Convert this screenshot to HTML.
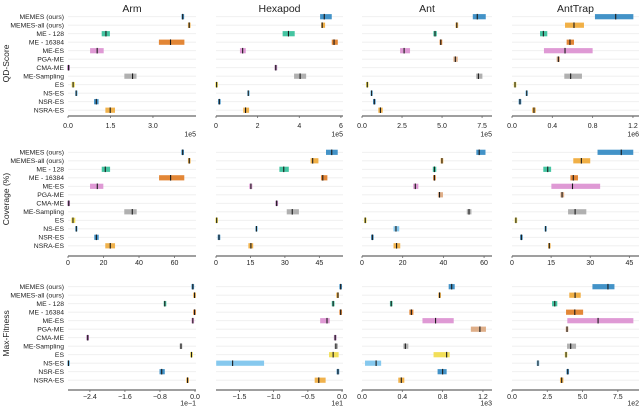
<!DOCTYPE html>
<html><head><meta charset="utf-8"><style>
body{margin:0;background:#fff;width:640px;height:407px;overflow:hidden}
svg text{font-family:"Liberation Sans","DejaVu Sans",sans-serif;fill:#222}
</style></head><body>
<svg id="chart" width="640" height="407" viewBox="0 0 640 407" xmlns="http://www.w3.org/2000/svg"></svg>
<script>
const categories=["MEMES (ours)","MEMES-all (ours)","ME - 128","ME - 16384","ME-ES","PGA-ME","CMA-ME","ME-Sampling","ES","NS-ES","NSR-ES","NSRA-ES"];
const colors=["#2f87c2","#efa733","#31bf98","#e07a20","#db8fd0","#dca67c","#b06eb2","#a9a9a9","#f1dc48","#79c3ec","#2f87c2","#eeaa3a"];
const envs=["Arm","Hexapod","Ant","AntTrap"];
const metrics=["QD-Score","Coverage (%)","Max-Fitness"];
// [low, median, high] per category
const qdArm=[[4.02,4.05,4.09],[4.26,4.28,4.30],[1.19,1.34,1.48],[3.21,3.62,4.11],[0.78,1.03,1.26],null,[0.01,0.02,0.03],[1.99,2.28,2.42],[0.13,0.18,0.24],[0.28,0.29,0.31],[0.92,1.0,1.08],[1.32,1.49,1.66]];
const qdHexapod=[[5.0,5.2,5.56],[5.05,5.1,5.24],[3.2,3.48,3.78],[5.56,5.67,5.85],[1.15,1.28,1.43],null,[2.83,2.87,2.92],[3.75,4.04,4.33],[0.01,0.03,0.05],[1.5,1.55,1.62],[0.14,0.16,0.18],[1.31,1.42,1.59]];
const qdAnt=[[6.92,7.2,7.73],[5.9,5.92,5.95],[4.46,4.56,4.67],[4.88,4.92,4.98],[2.38,2.63,3.0],[5.71,5.83,5.98],null,[7.13,7.27,7.52],[0.31,0.33,0.35],[0.58,0.6,0.62],[0.75,0.77,0.79],[1.02,1.15,1.29]];
const qdAntTrap=[[0.823,1.029,1.204],[0.526,0.615,0.714],[0.278,0.311,0.35],[0.542,0.575,0.615],[0.317,0.526,0.8],[0.443,0.46,0.476],null,[0.519,0.582,0.694],[0.025,0.03,0.035],[0.141,0.146,0.151],[0.074,0.079,0.084],[0.2,0.218,0.235]];
const covArm=[[64.2,64.6,65],[68.1,68.3,68.5],[19,21,23.7],[51.3,57.8,65.5],[12.4,16.5,19.9],null,[0.2,0.4,0.6],[31.7,36.2,38.7],[1.9,2.8,4.1],[4.4,4.7,5.0],[14.8,16,17.3],[21,23.8,26.5]];
const covHexapod=[[47.9,50.4,53],[41.2,42.1,44.6],[27.6,29.5,31.7],[45.7,46.5,48.5],[14.5,15.2,15.8],null,[26.1,26.4,26.8],[30.8,33.2,36.1],[0.1,0.3,0.5],[17.2,17.6,18.1],[1.1,1.3,1.5],[14.1,15.2,16.2]];
const covAnt=[[56.2,57.6,60.7],[39.1,39.3,39.5],[34.8,35.6,36.5],[35.5,35.6,35.7],[25.2,26.2,27.7],[37.3,38.1,39.8],null,[51.5,52.6,53.8],[1.4,1.6,1.8],[15.5,16.7,18.3],[4.9,5.1,5.3],[15.5,17,18.8]];
const covAntTrap=[[32.8,41.9,46.5],[23.5,26.6,30],[12,13.7,15],[22.4,23.5,25.3],[15.1,23.2,33.8],[18.6,19.2,20],null,[21.5,24.2,28.5],[1.3,1.5,1.7],[12.7,12.9,13.1],[3.4,3.6,3.8],[14.1,14.3,14.5]];
const fitArm=[[-0.06,-0.05,-0.04],[-0.02,-0.01,0],[-0.71,-0.69,-0.66],[-0.02,-0.01,0],[-0.06,-0.05,-0.04],null,[-2.46,-2.45,-2.44],[-0.33,-0.32,-0.31],[-0.1,-0.08,-0.06],[-2.89,-2.89,-2.88],[-0.81,-0.76,-0.69],[-0.18,-0.17,-0.16]];
const fitHexapod=[[-0.03,-0.02,-0.01],[-0.08,-0.06,-0.05],[-0.15,-0.13,-0.11],[-0.03,-0.02,-0.01],[-0.32,-0.22,-0.18],null,[-0.11,-0.1,-0.09],[-0.11,-0.09,-0.06],[-0.19,-0.13,-0.05],[-1.84,-1.6,-1.14],[-0.07,-0.06,-0.05],[-0.4,-0.34,-0.24]];
const fitAnt=[[0.86,0.89,0.92],[0.76,0.77,0.78],[0.285,0.29,0.295],[0.47,0.49,0.51],[0.6,0.73,0.91],[1.08,1.17,1.23],null,[0.41,0.43,0.46],[0.71,0.84,0.87],[0.03,0.14,0.19],[0.75,0.8,0.84],[0.36,0.39,0.42]];
const fitAntTrap=[[5.7,6.8,7.26],[4.06,4.47,4.87],[2.84,3.03,3.21],[3.83,4.45,5.04],[3.92,6.1,8.6],[3.87,3.9,3.93],null,[3.9,4.16,4.54],[3.8,3.83,3.86],[1.81,1.84,1.87],[3.92,3.95,3.98],[3.4,3.52,3.64]];
const ticksQD=[[0,1.5,3.0],[0,2,4,6],[0,2.5,5.0,7.5],[0,0.4,0.8,1.2]];
const tickLabelsQD=[["0.0","1.5","3.0"],["0","2","4","6"],["0.0","2.5","5.0","7.5"],["0.0","0.4","0.8","1.2"]];
const ticksCov=[[0,20,40,60],[0,15,30,45],[0,20,40,60],[0,15,30,45]];
const tickLabelsCov=[["0","20","40","60"],["0","15","30","45"],["0","20","40","60"],["0","15","30","45"]];
const ticksFit=[[-2.4,-1.6,-0.8,0],[-1.5,-1.0,-0.5,0],[0,0.4,0.8,1.2],[0,2.5,5.0,7.5]];
const tickLabelsFit=[["\u22122.4","\u22121.6","\u22120.8","0.0"],["\u22121.5","\u22121.0","\u22120.5","0.0"],["0.0","0.4","0.8","1.2"],["0.0","2.5","5.0","7.5"]];
const exponents=[["1e5","1e5","1e5","1e6"],["","","",""],["1e\u22121","1e1","1e3","1e2"]];

const rowData=[[qdArm,qdHexapod,qdAnt,qdAntTrap],[covArm,covHexapod,covAnt,covAntTrap],[fitArm,fitHexapod,fitAnt,fitAntTrap]];
const rowTicks=[ticksQD,ticksCov,ticksFit];
const rowTickLabels=[tickLabelsQD,tickLabelsCov,tickLabelsFit];
// layout
const panelPx=[[68,196],[216,343],[362,492],[512,639]];
const domains=[
 [[0,4.52],[0,6.1],[0,8.12],[0,1.26]],
 [[0,72.1],[0,55.3],[0,63.9],[0,48.7]],
 [[-2.9,0.023],[-1.843,0.014],[0,1.29],[0,9.0]]];
const rowTop=[16.7,152.3,286.7];
const rowAxisY=[116,256,390];
const labelOff=[12,9,9];
const expOff=[20.5,0,15.5];
const step=8.5;
const svg=document.getElementById('chart');
const NS='http://www.w3.org/2000/svg';
function mk(tag,attrs,parent){const e=document.createElementNS(NS,tag);for(const k in attrs)e.setAttribute(k,attrs[k]);(parent||svg).appendChild(e);return e;}
function xScale(r,c,v){const [d0,d1]=domains[r][c];const [p0,p1]=panelPx[c];return p0+(v-d0)/(d1-d0)*(p1-p0);}
function yPos(r,i){return rowTop[r]+i*step;}

envs.forEach((env,c)=>{
  const [p0,p1]=panelPx[c];
  const t=mk('text',{x:(p0+p1)/2,y:12,'text-anchor':'middle','font-size':'10.5'});
  t.textContent=env;
  
  
});
metrics.forEach((m,r)=>{
  const cy=(rowTop[r]+yPos(r,11))/2;
  const t=mk('text',{x:0,y:0,'text-anchor':'middle','font-size':'8.5',transform:`translate(9,${cy}) rotate(-90)`});
  t.textContent=m;
  
  
  categories.forEach((cat,i)=>{
    const l=mk('text',{x:64,y:yPos(r,i)+2.4,'text-anchor':'end','font-size':'6.8'});
    l.textContent=cat;
    
    
  });
  envs.forEach((env,c)=>{
    const [p0,p1]=panelPx[c];
    const g=mk('g',{});
    
    
    categories.forEach((cat,i)=>{
      const gl=mk('line',{x1:p0,x2:p1,y1:yPos(r,i),y2:yPos(r,i),stroke:'#eeeeee','stroke-width':'0.8'},g);
      
      
    });
    const ax=mk('line',{x1:p0,x2:p1,y1:rowAxisY[r],y2:rowAxisY[r],stroke:'#666','stroke-width':'1.3'},g);
    
    
    rowTicks[r][c].forEach((tv,k)=>{
      const x=xScale(r,c,tv);
      mk('line',{x1:x,x2:x,y1:rowAxisY[r],y2:rowAxisY[r]+2,stroke:'#666','stroke-width':'0.8'},g);
      const tl=mk('text',{x:x,y:rowAxisY[r]+labelOff[r],'text-anchor':'middle','font-size':'7'},g);
      tl.textContent=rowTickLabels[r][c][k];
      
      
    });
    if(exponents[r][c]){
      const ex=mk('text',{x:p1,y:rowAxisY[r]+expOff[r],'text-anchor':'end','font-size':'7'},g);
      ex.textContent=exponents[r][c];
      
      
    }
    rowData[r][c].forEach((d,i)=>{
      if(!d) return;
      const y=yPos(r,i);
      let x0=xScale(r,c,d[0]),x1=xScale(r,c,d[2]);
      if(x1-x0<2.6){const m=(x0+x1)/2;x0=m-1.3;x1=m+1.3;}
      const b=mk('rect',{x:x0,y:y-2.6,width:x1-x0,height:5.2,fill:colors[i],opacity:'0.9'},g);
      
      
      const xm=xScale(r,c,d[1]);
      const md=mk('line',{x1:xm,x2:xm,y1:y-2.8,y2:y+2.8,stroke:'#1a1a1a','stroke-width':'1.1'},g);
      
      
    });
  });
});
</script>
</body></html>
